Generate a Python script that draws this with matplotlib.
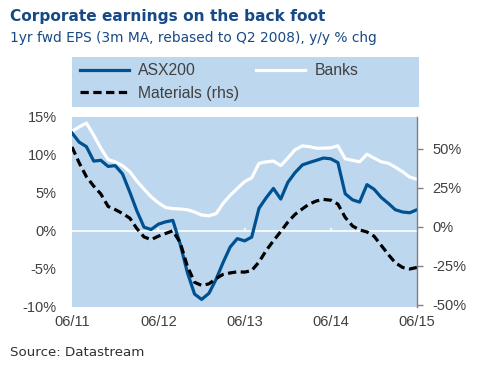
import matplotlib
matplotlib.use("Agg")
import matplotlib.pyplot as plt
import matplotlib.dates as mdates
import pandas as pd

dates = pd.date_range("2011-06-01", periods=49, freq="MS")

asx200 = [12.9, 11.7, 11.1, 9.2, 9.3, 8.5, 8.6, 7.5, 5.1, 2.7, 0.5, 0.2, 0.9, 1.2, 1.4,
          -1.7, -5.4, -8.3, -9.0, -8.2, -6.3, -4.2, -2.1, -1.0, -1.3, -0.8, 3.0, 4.4, 5.6,
          4.2, 6.4, 7.7, 8.7, 9.0, 9.3, 9.6, 9.5, 9.0, 4.9, 4.1, 3.8, 6.1, 5.5, 4.4, 3.6,
          2.8, 2.5, 2.4, 2.8]
banks = [13.1, 13.7, 14.2, 12.6, 10.9, 9.4, 9.1, 8.6, 7.8, 6.6, 5.5, 4.5, 3.7, 3.1, 2.95,
         2.9, 2.8, 2.5, 2.1, 2.0, 2.3, 3.6, 4.7, 5.6, 6.5, 7.0, 8.9, 9.1, 9.2, 8.6, 9.6,
         10.7, 11.2, 11.1, 10.9, 10.9, 10.95, 11.2, 9.5, 9.3, 9.1, 10.1, 9.6, 9.1, 8.9,
         8.4, 7.8, 7.1, 6.8]
materials = [51, 41, 32, 26, 21, 13, 11, 8.5, 5.5, -1, -6.5, -8.2, -6, -4.3, -2.6,
             -10, -25, -35.5, -37.5, -36.5, -33, -30.5, -29.5, -28.8, -29, -28, -22.5,
             -15, -9, -3, 3, 8, 11.5, 14.5, 16.5, 17.5, 17, 14.5, 6, 0.5, -2, -3.3, -6,
             -12, -18, -23, -26, -27, -26]

left_ticks = [-10, -5, 0, 5, 10, 15]
right_ticks = [-50, -25, 0, 25, 50]
xtick_dates = pd.to_datetime(["2011-06-01", "2012-06-01", "2013-06-01", "2014-06-01", "2015-06-01"])

BG = "#BDD7EE"
DARK = "#005191"
TXT = "#404040"
TITLE = "#174A85"

fig = plt.figure(figsize=(4.80, 3.71), dpi=100)
ax = fig.add_axes([72/480, 1-307/371, 345/480, 190/371])
ax.set_facecolor(BG)
ax2 = ax.twinx()

l1, = ax.plot(dates, asx200, color=DARK, lw=2.3, label="ASX200", zorder=4)
l2, = ax.plot(dates, banks, color="white", lw=2.3, label="Banks", zorder=3)
l3, = ax2.plot(dates, materials, color="black", lw=2.3, ls=(0, (2.6, 1.4)), label="Materials (rhs)")

ax.axhline(0, color="white", lw=1.2, zorder=2)
ax.vlines(xtick_dates[1:-1], 0, 0.45, color="white", lw=1.2, zorder=2)

ax.set_xlim(dates[0], dates[-1])
ax.set_ylim(-10, 15)
ax2.set_ylim(-51.3, 70.2)
ax.set_yticks(left_ticks)
ax.set_yticklabels([f"{t}%" for t in left_ticks])
ax2.set_yticks(right_ticks)
ax2.set_yticklabels([f"{t}%" for t in right_ticks])
ax.set_xticks(xtick_dates)
ax.xaxis.set_major_formatter(mdates.DateFormatter("%m/%y"))

for s in ["top", "bottom", "left", "right"]:
    ax.spines[s].set_visible(False)
    ax2.spines[s].set_visible(False)
ax2.spines["right"].set_visible(True)
ax2.spines["right"].set_color("#808080")
ax2.spines["right"].set_linewidth(1.0)

font = "Liberation Sans"
ax.tick_params(axis="y", length=0, pad=11, labelsize=10.5, labelcolor=TXT)
ax.tick_params(axis="x", length=0, pad=6, labelsize=10.5, labelcolor=TXT)
ax2.tick_params(axis="y", length=4.3, width=1.0, color="#808080", pad=6.5, labelsize=10.5, labelcolor=TXT)
for lab in ax.get_xticklabels() + ax.get_yticklabels() + ax2.get_yticklabels():
    lab.set_fontfamily(font)

# legend box
lax = fig.add_axes([72/480, 1-107/371, 347/480, 50/371])
lax.set_facecolor(BG)
lax.set_xticks([]); lax.set_yticks([])
for s in lax.spines.values():
    s.set_visible(False)
leg = lax.legend(handles=[l1, l3, l2], loc="upper left", bbox_to_anchor=(8/347, 1 - 6/50), ncol=2,
                 frameon=False, handlelength=3.1, handletextpad=0.6, columnspacing=1.1,
                 labelspacing=0.5, borderpad=0, borderaxespad=0,
                 prop={"family": font, "size": 11.3})
for t in leg.get_texts():
    t.set_color(TXT)

fig.text(10/480, 1-16/371, "Corporate earnings on the back foot", fontsize=11.1, fontweight="bold",
         color=TITLE, va="center", ha="left", family="DejaVu Sans")
fig.text(10/480, 1-38/371, "1yr fwd EPS (3m MA, rebased to Q2 2008), y/y % chg", fontsize=9.9,
         color=TITLE, va="center", ha="left", family="DejaVu Sans")
fig.text(10/480, 1-353/371, "Source: Datastream", fontsize=9.6, color="#303030",
         va="center", ha="left", family="DejaVu Sans")

fig.savefig("out.png", dpi=100)
